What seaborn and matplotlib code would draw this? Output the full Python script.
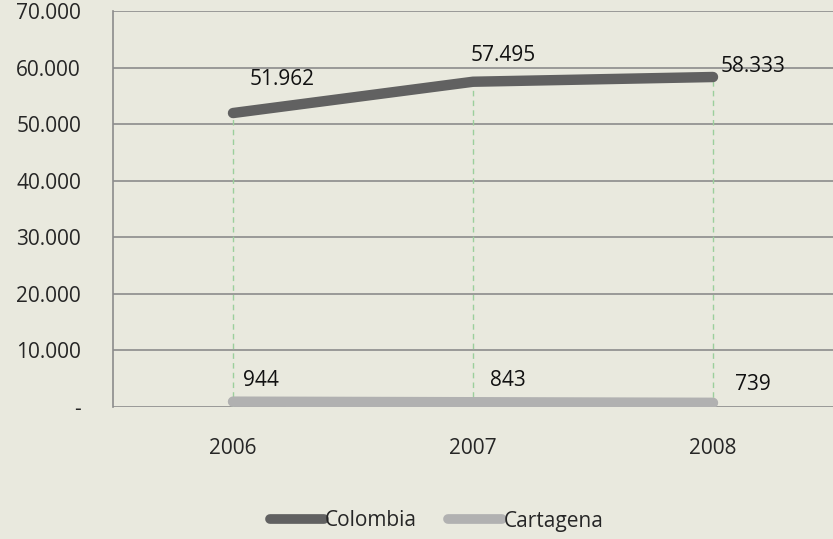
import matplotlib
matplotlib.use("Agg")
import matplotlib.pyplot as plt
import seaborn as sns
import pandas as pd

# datos
years = [2006, 2007, 2008]
colombia = [51962, 57495, 58333]
cartagena = [944, 843, 739]
colombia_labels = ["51.962", "57.495", "58.333"]
cartagena_labels = ["944", "843", "739"]
y_ticks = [0, 10000, 20000, 30000, 40000, 50000, 60000, 70000]
y_tick_labels = ["-", "10.000", "20.000", "30.000", "40.000", "50.000", "60.000", "70.000"]

bg = "#E9E9DE"
sns.set_style("white")
plt.rcParams["font.family"] = ["Open Sans", "DejaVu Sans"]
plt.rcParams["lines.solid_capstyle"] = "round"

df = pd.DataFrame({
    "year": years * 2,
    "value": colombia + cartagena,
    "serie": ["Colombia"] * 3 + ["Cartagena"] * 3,
})

fig = plt.figure(figsize=(8.33, 5.39), dpi=100, facecolor=bg)
ax = fig.add_axes([113 / 833, 132 / 539, 720 / 833, 396 / 539])
ax.set_facecolor(bg)

# lineas punteadas verticales
ax.vlines(years, 0, colombia, colors="#9CCF9C", linestyles=(0, (4, 3)), linewidth=1, zorder=1)

sns.lineplot(data=df, x="year", y="value", hue="serie",
             palette={"Colombia": "#616161", "Cartagena": "#B1B1B1"},
             linewidth=7.5, ax=ax, zorder=3)

fs = 15
ax.set_xlim(2005.5, 2008.5)
ax.set_ylim(0, 70000)
ax.set_yticks(y_ticks)
ax.set_yticklabels(y_tick_labels, fontsize=fs)
ax.set_xticks(years)
ax.set_xticklabels([str(y) for y in years], fontsize=fs)
ax.tick_params(axis="x", length=0, pad=22)
ax.tick_params(axis="y", length=9, color="#8C8C8C", width=1.2, pad=14)
ax.grid(axis="y", color="#8C8C8C", linewidth=1.2)
ax.set_axisbelow(True)
for s in ["top", "right", "bottom"]:
    ax.spines[s].set_visible(False)
ax.spines["left"].set_color("#8C8C8C")
ax.spines["left"].set_linewidth(1.2)
ax.set_xlabel("")
ax.set_ylabel("")

# etiquetas de datos
col_off = [(0.07, 5850), (-0.01, 4700), (0.03, 1900)]
for x, v, t, (dx, dy) in zip(years, colombia, colombia_labels, col_off):
    ax.text(x + dx, v + dy, t, fontsize=fs, ha="left", va="center", color="#111111")
car_off = [(0.04, 3800), (0.07, 3900), (0.09, 3150)]
for x, v, t, (dx, dy) in zip(years, cartagena, cartagena_labels, car_off):
    ax.text(x + dx, v + dy, t, fontsize=fs, ha="left", va="center", color="#111111")

leg = ax.legend(loc="center", bbox_to_anchor=(0.524, 18 / 539), bbox_transform=fig.transFigure,
                ncol=2, frameon=False, fontsize=fs, handlelength=2.6, handletextpad=0.05,
                columnspacing=1.5)
for h in leg.get_lines():
    h.set_linewidth(7)
    h.set_solid_capstyle("round")

fig.savefig("out.png", dpi=100, facecolor=bg)
